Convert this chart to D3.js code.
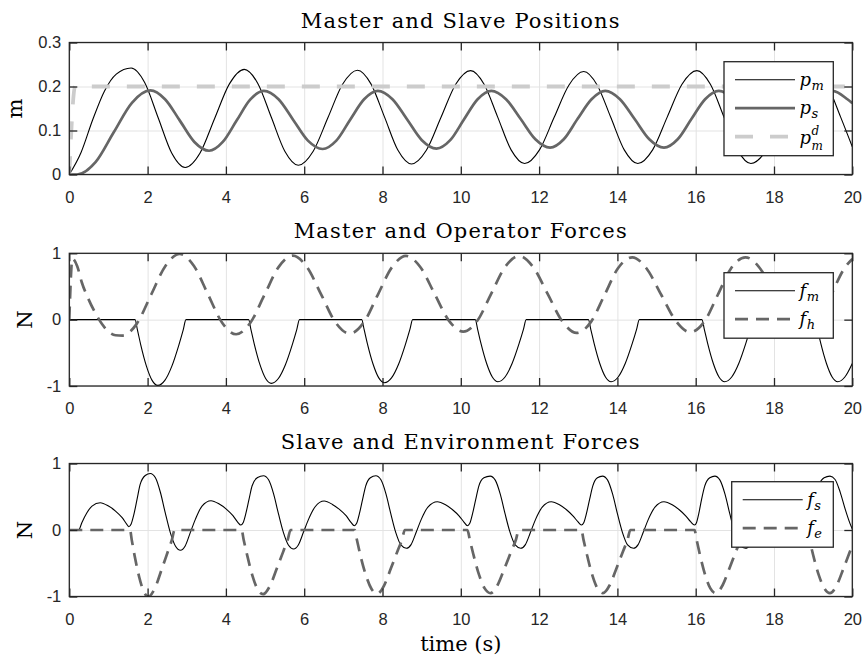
<!DOCTYPE html>
<html>
<head>
<meta charset="utf-8">
<script src="https://cdn.jsdelivr.net/npm/d3@7/dist/d3.min.js"></script>
<style>
  html, body { margin: 0; padding: 0; background: #fff; }
  svg { display: block; }
</style>
</head>
<body>
<svg id="chart" width="865" height="662"></svg>
<script>
// ---------- tick values ----------
const timeTicks  = [0, 2, 4, 6, 8, 10, 12, 14, 16, 18, 20];
const posTicks   = [0, 0.1, 0.2, 0.3];
const forceTicks = [-1, 0, 1];

// ---------- series: [time (s), value] ----------
// master position p_m (m)
const masterPos = [[0,0],[0.3,0.05],[0.6,0.125],[0.9,0.19],[1.2,0.228],[1.58,0.242],[1.925,0.209],[2.27,0.129],[2.615,0.049],[2.96,0.016],
  [3.34,0.049],[3.715,0.128],[4.09,0.206],[4.47,0.239],[4.815,0.207],[5.16,0.130],[5.505,0.053],[5.85,0.021],
  [6.23,0.053],[6.605,0.129],[6.98,0.205],[7.36,0.237],[7.705,0.206],[8.05,0.131],[8.395,0.055],[8.74,0.024],
  [9.12,0.055],[9.495,0.130],[9.87,0.205],[10.25,0.236],[10.595,0.205],[10.94,0.131],[11.285,0.056],[11.63,0.025],
  [12.01,0.056],[12.385,0.130],[12.76,0.203],[13.14,0.234],[13.485,0.203],[13.83,0.130],[14.175,0.056],[14.52,0.025],
  [14.9,0.056],[15.275,0.131],[15.65,0.205],[16.03,0.236],[16.375,0.205],[16.72,0.131],[17.065,0.056],[17.41,0.025],
  [17.81,0.056],[18.205,0.131],[18.6,0.205],[19.0,0.236],[19.35,0.205],[19.7,0.131],[20,0.063]];

// slave position p_s (m)
const slavePos = [[0,0],[0.2,0],[0.67,0.028],[1.135,0.096],[1.6,0.163],[2.07,0.191],[2.445,0.171],[2.82,0.123],[3.195,0.074],[3.57,0.054],
  [3.92,0.074],[4.27,0.122],[4.62,0.170],[4.97,0.190],[5.345,0.171],[5.72,0.124],[6.095,0.077],[6.47,0.058],
  [6.82,0.077],[7.17,0.124],[7.53,0.171],[7.88,0.190],[8.255,0.171],[8.63,0.125],[9.005,0.078],[9.38,0.059],
  [9.73,0.078],[10.08,0.125],[10.43,0.171],[10.78,0.190],[11.155,0.171],[11.53,0.126],[11.905,0.080],[12.28,0.061],
  [12.63,0.080],[12.98,0.126],[13.34,0.171],[13.69,0.190],[14.065,0.171],[14.44,0.126],[14.815,0.080],[15.19,0.061],
  [15.54,0.080],[15.89,0.126],[16.24,0.171],[16.59,0.190],[16.965,0.171],[17.34,0.126],[17.715,0.080],[18.09,0.061],
  [18.44,0.080],[18.79,0.126],[19.15,0.171],[19.5,0.190],[19.875,0.171],[20,0.162]];

// desired master position p_m^d (m)
const desiredPos = [[0,0],[0.15,0.2],[20,0.2]];

// master force f_m (N)
const masterForce = [[0,0],[1.68,0],[1.74,-0.154],[1.825,-0.379],[1.97,-0.70],[2.115,-0.915],[2.26,-0.99],[2.44,-0.915],[2.62,-0.70],[2.80,-0.379],[2.91,-0.154],[2.98,0],
  [4.58,0],[4.64,-0.15],[4.725,-0.368],[4.87,-0.679],[5.015,-0.887],[5.16,-0.96],[5.34,-0.887],[5.52,-0.679],[5.70,-0.368],[5.81,-0.15],[5.88,0],
  [7.47,0],[7.53,-0.148],[7.615,-0.364],[7.76,-0.672],[7.905,-0.878],[8.05,-0.95],[8.23,-0.878],[8.41,-0.672],[8.59,-0.364],[8.70,-0.148],[8.77,0],
  [10.37,0],[10.43,-0.146],[10.515,-0.358],[10.66,-0.661],[10.805,-0.864],[10.95,-0.935],[11.13,-0.864],[11.31,-0.661],[11.49,-0.358],[11.60,-0.146],[11.67,0],
  [13.26,0],[13.32,-0.146],[13.405,-0.358],[13.55,-0.661],[13.695,-0.864],[13.84,-0.935],[14.02,-0.864],[14.2,-0.661],[14.38,-0.358],[14.49,-0.146],[14.56,0],
  [16.16,0],[16.22,-0.146],[16.305,-0.358],[16.45,-0.661],[16.595,-0.864],[16.74,-0.935],[16.92,-0.864],[17.1,-0.661],[17.28,-0.358],[17.39,-0.146],[17.46,0],
  [19.05,0],[19.11,-0.146],[19.195,-0.358],[19.34,-0.661],[19.485,-0.864],[19.63,-0.935],[19.81,-0.864],[20,-0.66]];

// operator force f_h (N)
const operatorForce = [[0,0],[0.08,0.92],[0.2,0.81],[0.32,0.56],[0.49,0.31],[0.66,0.105],[0.84,-0.07],[1.0,-0.18],[1.18,-0.235],[1.36,-0.24],
  [1.725,-0.06],[2.09,0.375],[2.455,0.81],[2.82,0.99],[3.18,0.813],[3.54,0.385],[3.90,-0.043],[4.26,-0.22],
  [4.625,-0.047],[4.985,0.373],[5.345,0.792],[5.71,0.965],[6.07,0.793],[6.435,0.378],[6.795,-0.038],[7.16,-0.21],
  [7.525,-0.039],[7.88,0.375],[8.24,0.789],[8.60,0.96],[8.965,0.794],[9.33,0.39],[9.695,-0.014],[10.06,-0.18],
  [10.425,-0.014],[10.775,0.39],[11.13,0.794],[11.49,0.96],[11.85,0.791],[12.225,0.38],[12.6,-0.031],[12.96,-0.2],
  [13.325,-0.034],[13.67,0.37],[14.015,0.774],[14.38,0.94],[14.74,0.775],[15.12,0.375],[15.5,-0.025],[15.86,-0.19],
  [16.225,-0.025],[16.565,0.375],[16.905,0.775],[17.27,0.94],[17.64,0.775],[18.01,0.375],[18.38,-0.025],[18.76,-0.19],
  [19.125,-0.025],[19.46,0.375],[19.8,0.775],[20,0.915]];

// slave force f_s (N)
const slaveForce = [[0,0],[0.24,0],[0.32,0.11],[0.45,0.26],[0.58,0.36],[0.79,0.41],[1.0,0.36],[1.18,0.285],[1.35,0.185],[1.47,0.085],[1.52,0.05],[1.58,0.09],[1.65,0.235],[1.73,0.46],[1.81,0.685],[1.94,0.82],
  [2.07,0.85],[2.20,0.785],[2.33,0.56],[2.45,0.26],[2.58,-0.04],[2.71,-0.24],[2.84,-0.305],[2.96,-0.24],[3.09,-0.04],[3.22,0.16],[3.39,0.36],[3.62,0.44],[3.83,0.39],[4.01,0.315],[4.18,0.215],[4.30,0.12],[4.38,0.075],[4.44,0.11],[4.51,0.25],[4.59,0.46],[4.67,0.665],[4.81,0.79],
  [4.96,0.815],[5.09,0.755],[5.22,0.54],[5.34,0.25],[5.47,-0.04],[5.60,-0.23],[5.73,-0.285],[5.85,-0.225],[5.98,-0.035],[6.11,0.16],[6.28,0.35],[6.51,0.435],[6.72,0.385],[6.90,0.31],[7.07,0.215],[7.19,0.12],[7.28,0.065],[7.34,0.10],[7.41,0.245],[7.49,0.455],[7.57,0.66],[7.69,0.785],
  [7.83,0.815],[7.96,0.755],[8.09,0.54],[8.21,0.25],[8.34,-0.04],[8.47,-0.225],[8.61,-0.275],[8.73,-0.22],[8.86,-0.035],[8.99,0.16],[9.16,0.345],[9.40,0.425],[9.61,0.38],[9.79,0.305],[9.96,0.21],[10.08,0.12],[10.17,0.065],[10.23,0.10],[10.30,0.245],[10.38,0.455],[10.46,0.66],[10.59,0.785],
  [10.75,0.81],[10.88,0.75],[11.01,0.535],[11.13,0.245],[11.26,-0.04],[11.39,-0.225],[11.53,-0.275],[11.65,-0.22],[11.78,-0.035],[11.91,0.16],[12.08,0.345],[12.31,0.425],[12.52,0.38],[12.70,0.305],[12.87,0.21],[12.99,0.125],[13.08,0.075],[13.14,0.11],[13.21,0.25],[13.29,0.46],[13.37,0.66],[13.49,0.785],
  [13.62,0.81],[13.75,0.75],[13.88,0.535],[14.00,0.245],[14.13,-0.04],[14.26,-0.225],[14.41,-0.275],[14.53,-0.22],[14.66,-0.035],[14.79,0.16],[14.96,0.345],[15.19,0.425],[15.40,0.38],[15.58,0.305],[15.75,0.21],[15.87,0.125],[15.97,0.075],[16.02,0.11],[16.08,0.25],[16.15,0.46],[16.23,0.66],[16.36,0.785],
  [16.49,0.81],[16.62,0.75],[16.75,0.535],[16.87,0.245],[17.00,-0.04],[17.13,-0.225],[17.27,-0.275],[17.39,-0.22],[17.52,-0.035],[17.65,0.16],[17.82,0.345],[18.05,0.425],[18.26,0.38],[18.44,0.305],[18.61,0.21],[18.73,0.125],[18.84,0.075],[18.90,0.11],[18.97,0.25],[19.05,0.46],[19.14,0.66],[19.28,0.785],
  [19.43,0.81],[19.56,0.76],[19.69,0.57],[19.82,0.31],[19.94,0.1],[20,0.015]];

// environment force f_e (N)
const envForce = [[0,0],[1.55,0],[1.597,-0.156],[1.667,-0.383],[1.785,-0.707],[1.90,-0.924],[2.02,-1.0],[2.19,-0.87],[2.355,-0.6],[2.52,-0.32],[2.62,-0.15],[2.69,0],
  [4.40,0],[4.455,-0.151],[4.54,-0.37],[4.675,-0.682],[4.81,-0.892],[4.95,-0.965],[5.125,-0.84],[5.30,-0.579],[5.475,-0.309],[5.58,-0.145],[5.65,0],
  [7.29,0],[7.347,-0.15],[7.43,-0.368],[7.575,-0.679],[7.72,-0.887],[7.86,-0.96],[8.04,-0.835],[8.215,-0.576],[8.39,-0.307],[8.50,-0.144],[8.57,0],
  [10.17,0],[10.23,-0.148],[10.32,-0.364],[10.465,-0.672],[10.61,-0.878],[10.76,-0.95],[10.94,-0.827],[11.12,-0.57],[11.30,-0.304],[11.41,-0.143],[11.48,0],
  [13.08,0],[13.135,-0.148],[13.22,-0.364],[13.355,-0.672],[13.49,-0.878],[13.63,-0.95],[13.805,-0.827],[13.98,-0.57],[14.155,-0.304],[14.26,-0.143],[14.33,0],
  [15.97,0],[16.024,-0.148],[16.105,-0.364],[16.24,-0.672],[16.375,-0.878],[16.51,-0.95],[16.69,-0.827],[16.865,-0.57],[17.04,-0.304],[17.15,-0.143],[17.22,0],
  [18.85,0],[18.908,-0.148],[18.995,-0.364],[19.14,-0.672],[19.285,-0.878],[19.43,-0.95],[19.605,-0.827],[19.78,-0.57],[20,-0.23]];

// ---------- text ----------
const panelTitles = ["Master and Slave Positions", "Master and Operator Forces", "Slave and Environment Forces"];
const yLabels = ["m", "N", "N"];
const xLabel = "time (s)";

// ---------- layout ----------
const svg = d3.select("#chart");
const plotLeft = 69.3, plotWidth = 783;
const x = d3.scaleLinear().domain([0, 20]).range([plotLeft, plotLeft + plotWidth]);

const axisColor = "#262626";
const gridColor = "#e3e3e3";
const tickFont = "'Liberation Sans', Arial, Helvetica, sans-serif";
const serifFont = "'DejaVu Serif', serif";

const panels = [
  { top: 42.5, height: 132, domain: [0, 0.3], ticks: posTicks, title: panelTitles[0], ylabel: yLabels[0], ylabelX: 21.7,
    legend: { x0: 724, y0: 61.7, x1: 833.3 },
    series: [
      { data: masterPos,  color: "#000000", width: 1.1, dash: null,    label: ["p", "m", null] },
      { data: slavePos,   color: "#666666", width: 2.7, dash: null,    label: ["p", "s", null] },
      { data: desiredPos, color: "#cccccc", width: 3.8, dash: "18,17", label: ["p", "m", "d"] }
    ] },
  { top: 253.3, height: 132.7, domain: [-1, 1], ticks: forceTicks, title: panelTitles[1], ylabel: yLabels[1], ylabelX: 31.7,
    legend: { x0: 724, y0: 272.7, x1: 833.3 },
    series: [
      { data: masterForce,   color: "#000000", width: 1.1, dash: null,   label: ["f", "m", null] },
      { data: operatorForce, color: "#666666", width: 2.7, dash: "13,8", label: ["f", "h", null] }
    ] },
  { top: 463.5, height: 133, domain: [-1, 1], ticks: forceTicks, title: panelTitles[2], ylabel: yLabels[2], ylabelX: 31.7,
    legend: { x0: 731.7, y0: 481.7, x1: 833.3 },
    series: [
      { data: slaveForce, color: "#000000", width: 1.1, dash: null,   label: ["f", "s", null] },
      { data: envForce,   color: "#666666", width: 2.7, dash: "13,8", label: ["f", "e", null] }
    ] }
];

const numFmt = d => String(d);

panels.forEach((p, i) => {
  const bottom = p.top + p.height;
  const y = d3.scaleLinear().domain(p.domain).range([bottom, p.top]);
  const g = svg.append("g");

  // grid
  g.append("g").attr("transform", `translate(0,${bottom})`)
    .call(d3.axisBottom(x).tickValues(timeTicks).tickSize(-p.height).tickFormat(""))
    .call(s => { s.select(".domain").remove(); s.selectAll("line").attr("stroke", gridColor).attr("stroke-width", 1); });
  g.append("g").attr("transform", `translate(${plotLeft},0)`)
    .call(d3.axisLeft(y).tickValues(p.ticks).tickSize(-plotWidth).tickFormat(""))
    .call(s => { s.select(".domain").remove(); s.selectAll("line").attr("stroke", gridColor).attr("stroke-width", 1); });

  // clipped data lines
  const clipId = "clip" + i;
  svg.append("clipPath").attr("id", clipId)
    .append("rect").attr("x", plotLeft).attr("y", p.top).attr("width", plotWidth).attr("height", p.height);
  const line = d3.line().x(d => x(d[0])).y(d => y(d[1])).curve(d3.curveMonotoneX);
  const lines = g.append("g").attr("clip-path", `url(#${clipId})`);
  p.series.forEach(s => {
    lines.append("path").datum(s.data)
      .attr("d", line)
      .attr("fill", "none")
      .attr("stroke", s.color)
      .attr("stroke-width", s.width)
      .attr("stroke-linejoin", "round")
      .attr("stroke-dasharray", s.dash);
  });

  // axes box
  g.append("rect").attr("x", plotLeft).attr("y", p.top).attr("width", plotWidth).attr("height", p.height)
    .attr("fill", "none").attr("stroke", axisColor).attr("stroke-width", 1.3);

  const styleAxis = s => {
    s.select(".domain").remove();
    s.selectAll("line").attr("stroke", axisColor).attr("stroke-width", 1.3);
    s.selectAll("text").attr("fill", axisColor).style("font-family", tickFont).style("font-size", "16.5px");
  };
  g.append("g").attr("transform", `translate(0,${bottom})`)
    .call(d3.axisBottom(x).tickValues(timeTicks).tickSizeInner(-8).tickSizeOuter(0).tickPadding(16.3).tickFormat(numFmt))
    .call(styleAxis);
  g.append("g").attr("transform", `translate(0,${p.top})`)
    .call(d3.axisTop(x).tickValues(timeTicks).tickSizeInner(-8).tickSizeOuter(0).tickFormat(""))
    .call(styleAxis);
  g.append("g").attr("transform", `translate(${plotLeft},0)`)
    .call(d3.axisLeft(y).tickValues(p.ticks).tickSizeInner(-8).tickSizeOuter(0).tickPadding(8).tickFormat(numFmt))
    .call(styleAxis);
  g.append("g").attr("transform", `translate(${plotLeft + plotWidth},0)`)
    .call(d3.axisRight(y).tickValues(p.ticks).tickSizeInner(-8).tickSizeOuter(0).tickFormat(""))
    .call(styleAxis);

  // title
  g.append("text")
    .attr("x", plotLeft + plotWidth / 2).attr("y", p.top - 15)
    .attr("text-anchor", "middle")
    .style("font-family", serifFont).style("font-size", "21px").style("letter-spacing", "1.2px")
    .attr("fill", "#000").text(p.title);

  // y label
  g.append("text")
    .attr("transform", `translate(${p.ylabelX},${p.top + p.height / 2}) rotate(-90)`)
    .attr("text-anchor", "middle")
    .style("font-family", serifFont).style("font-size", "21px")
    .attr("fill", "#000").text(p.ylabel);

  // legend
  const L = p.legend, n = p.series.length;
  const rowGap = 28.5, firstRow = 18;
  const boxH = firstRow + (n - 1) * rowGap + 19;
  const lg = g.append("g");
  lg.append("rect").attr("x", L.x0).attr("y", L.y0).attr("width", L.x1 - L.x0).attr("height", boxH)
    .attr("fill", "#fff").attr("stroke", axisColor).attr("stroke-width", 1.3);
  p.series.forEach((s, k) => {
    const ry = L.y0 + firstRow + k * rowGap;
    lg.append("line").attr("x1", L.x0 + 11).attr("x2", L.x0 + 71).attr("y1", ry).attr("y2", ry)
      .attr("stroke", s.color).attr("stroke-width", s.width).attr("stroke-dasharray", s.dash);
    const tx = L.x0 + 75.5;
    const [mainSym, subSym, supSym] = s.label;
    const mainBase = supSym ? ry + 7 : ry + 6;
    const main = lg.append("text").attr("x", tx).attr("y", mainBase)
      .style("font-family", serifFont).style("font-size", "18px").style("font-style", "italic")
      .attr("fill", "#000").text(mainSym);
    const mw = main.node().getComputedTextLength();
    lg.append("text").attr("x", tx + mw + 0.5).attr("y", supSym ? ry + 13.5 : ry + 10)
      .style("font-family", serifFont).style("font-size", supSym ? "12px" : "13px").style("font-style", "italic")
      .attr("fill", "#000").text(subSym);
    if (supSym) {
      lg.append("text").attr("x", tx + mw + 0.5).attr("y", ry - 2)
        .style("font-family", serifFont).style("font-size", "12px").style("font-style", "italic")
        .attr("fill", "#000").text(supSym);
    }
  });
});

// x label
svg.append("text")
  .attr("x", plotLeft + plotWidth / 2).attr("y", 651)
  .attr("text-anchor", "middle")
  .style("font-family", serifFont).style("font-size", "21px")
  .attr("fill", "#000").text(xLabel);
</script>
</body>
</html>
